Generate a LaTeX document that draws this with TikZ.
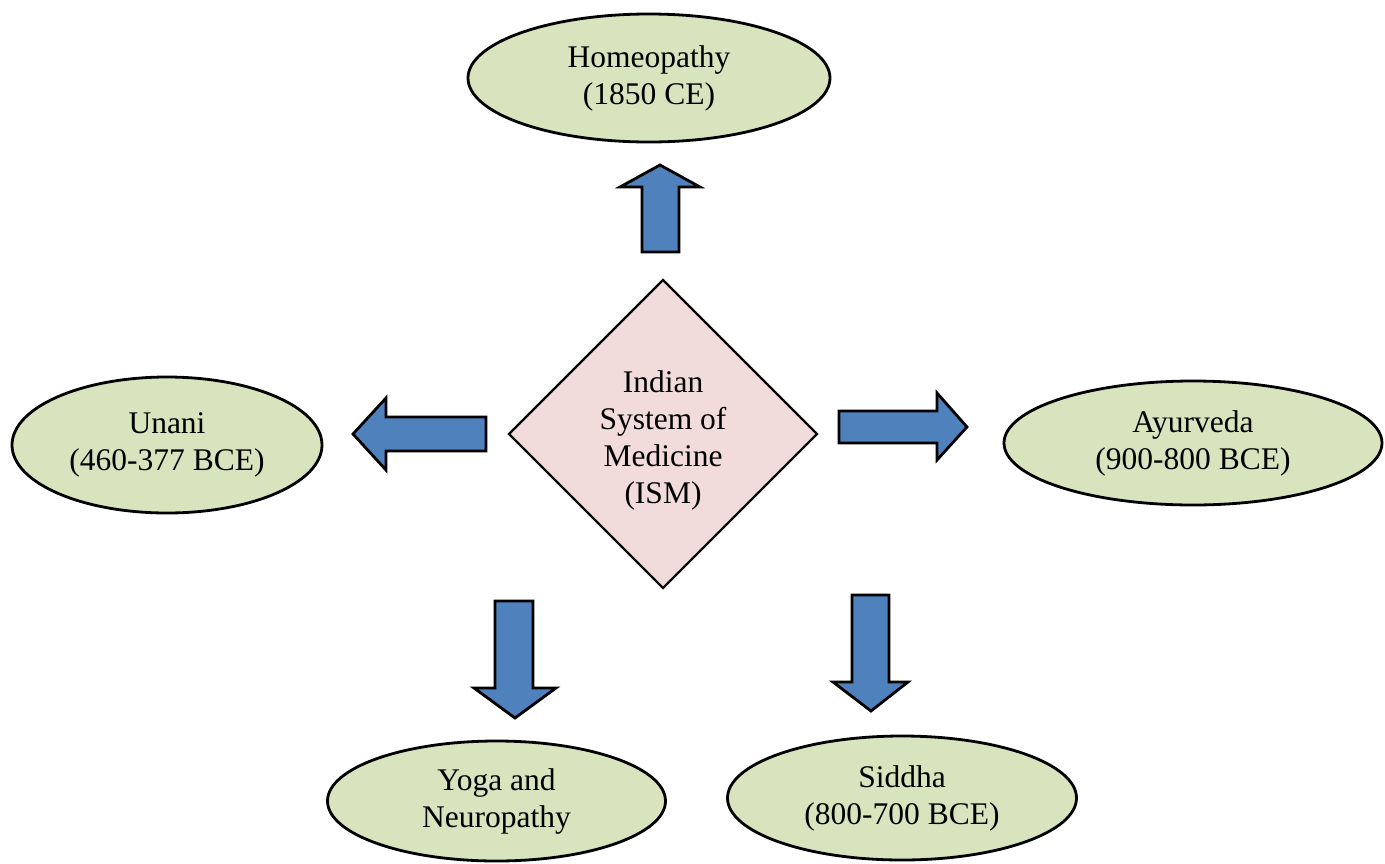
\documentclass[tikz,border=0pt]{standalone}
\usepackage{fontspec}
\setmainfont{Liberation Serif}
\usetikzlibrary{shapes.geometric}
\definecolor{leafgreen}{HTML}{D7E4BD}
\definecolor{blushpink}{HTML}{F2DCDB}
\definecolor{arrowblue}{HTML}{4F81BD}
\tikzset{
  labeltext/.style={align=center, font=\fontsize{31.5}{37}\selectfont},
  system/.style={ellipse, draw=black, line width=2.8pt, fill=leafgreen,
    inner sep=0pt, labeltext},
  hub/.style={diamond, draw=black, line width=2.4pt, fill=blushpink,
    inner sep=0pt, minimum width=309pt, minimum height=309pt},
  blockarrow/.style={draw=black, line width=2.8pt, fill=arrowblue, line join=miter}
}
\begin{document}
\begin{tikzpicture}[x=1pt, y=-1pt]
\useasboundingbox (0,0) rectangle (1385,863);

% central system
\node[hub] (ism) at (663,434) {};
\node[labeltext] (ismlabel) at (663,440) {Indian\\System of\\Medicine\\(ISM)};

% branches
\node[system, minimum width=362pt, minimum height=128pt] (homeo) at (649,78) {Homeopathy\\(1850 CE)};
\node[system, minimum width=310pt, minimum height=136pt] (unani) at (167,445) {Unani\\(460-377 BCE)};
\node[system, minimum width=378pt, minimum height=124pt] (ayur) at (1193,443) {Ayurveda\\(900-800 BCE)};
\node[system, minimum width=338pt, minimum height=120pt] (yoga) at (496.5,801) {Yoga and\\Neuropathy};
\node[system, minimum width=349pt, minimum height=124pt] (siddha) at (902,798) {Siddha\\(800-700 BCE)};

% block arrows pointing from the hub to each branch
\draw[blockarrow] (642,252) -- (642,187) -- (620,187) -- (660,165) -- (700,187)
  -- (679,187) -- (679,252) -- cycle;
\draw[blockarrow] (486,417) -- (386,417) -- (386,398) -- (353,434) -- (386,470)
  -- (386,451) -- (486,451) -- cycle;
\draw[blockarrow] (839,411) -- (937,411) -- (937,393) -- (967,427) -- (937,460)
  -- (937,443) -- (839,443) -- cycle;
\draw[blockarrow] (495,601) -- (533,601) -- (533,688) -- (556,688) -- (515,718)
  -- (474,688) -- (495,688) -- cycle;
\draw[blockarrow] (852,595) -- (889,595) -- (889,682) -- (908,682) -- (871,711)
  -- (833,682) -- (852,682) -- cycle;
\end{tikzpicture}
\end{document}
